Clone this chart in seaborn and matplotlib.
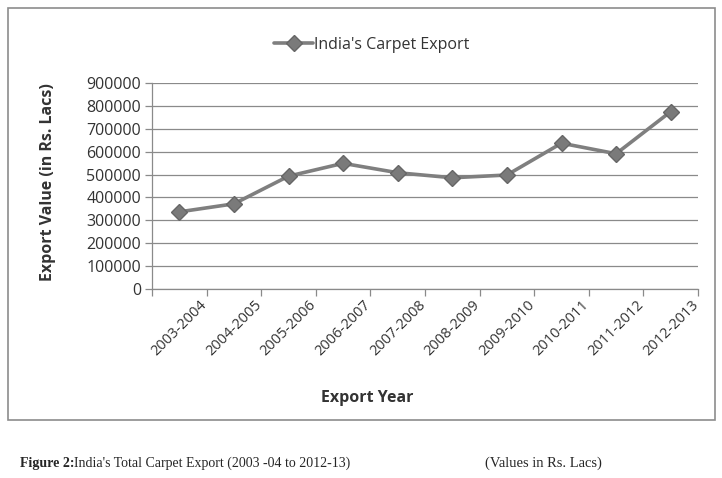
import numpy as np
import pandas as pd
import seaborn as sns
import matplotlib.pyplot as plt
from matplotlib.patches import Rectangle

# values (Rs. Lacs)
years = ['2003-2004', '2004-2005', '2005-2006', '2006-2007', '2007-2008',
         '2008-2009', '2009-2010', '2010-2011', '2011-2012', '2012-2013']
export_value = [337000, 372000, 493000, 549000, 508000,
                486000, 498000, 637000, 591000, 775000]
y_ticks = [0, 100000, 200000, 300000, 400000, 500000, 600000, 700000, 800000, 900000]

df = pd.DataFrame({'year': years, 'value': export_value})

sns.set_style('white')
plt.rcParams['font.family'] = ['Open Sans', 'DejaVu Sans']

W, H = 722, 478
fig = plt.figure(figsize=(W / 100, H / 100), dpi=100)
ax = fig.add_axes([152 / W, 1 - 289 / H, (698 - 152) / W, (289 - 83) / H])

# chart border
fig.patches.append(Rectangle((8 / W, 1 - 420 / H), 707 / W, 412 / H,
                             transform=fig.transFigure, fill=False,
                             edgecolor='#8c8c8c', linewidth=1.2))

sns.lineplot(data=df, x='year', y='value', ax=ax, color='#7f7f7f', linewidth=2.6,
             marker='D', markersize=8, markerfacecolor='#7a7a7a',
             markeredgecolor='#666666', markeredgewidth=1.0,
             label="India's Carpet Export", sort=False)

ax.set_xlim(-0.5, len(years) - 0.5)
ax.set_ylim(0, 900000)
ax.set_yticks(y_ticks)
ax.set_yticklabels([str(v) for v in y_ticks])
ax.yaxis.grid(True, color='#8a8a8a', linewidth=0.9)
ax.xaxis.grid(False)

ax.set_xticks(range(len(years)))
ax.set_xticklabels(years, rotation=45)
ax.set_xticks(np.arange(-0.5, len(years), 1.0), minor=True)
ax.tick_params(axis='x', which='major', length=0, pad=6, labelsize=10.5, labelcolor='#333333')
ax.tick_params(axis='x', which='minor', length=5, width=0.9, color='#8a8a8a', direction='out', bottom=True)
ax.tick_params(axis='y', length=5, width=0.9, color='#8a8a8a', direction='out', left=True,
               labelsize=11.5, labelcolor='#333333', pad=3)

for side in ['top', 'right']:
    ax.spines[side].set_visible(False)
for side in ['left', 'bottom']:
    ax.spines[side].set_color('#8a8a8a')
    ax.spines[side].set_linewidth(0.9)

ax.set_xlabel('')
ax.set_ylabel('Export Value (in Rs. Lacs)', fontsize=11.5, fontweight='bold', color='#333333')
ax.yaxis.set_label_coords((56 - 152) / (698 - 152), (289 - 182) / (289 - 83))
fig.text(367 / W, 1 - 398 / H, 'Export Year', fontsize=11.5, fontweight='bold',
         color='#333333', ha='center', va='center')

leg = ax.legend(loc='center', bbox_to_anchor=(372 / W, 1 - 45 / H),
                bbox_transform=fig.transFigure, frameon=False, fontsize=11.5,
                handlelength=2.4, handletextpad=0.1)
for t in leg.get_texts():
    t.set_color('#333333')

# caption under the chart box
cap_y = 1 - 463 / H
t1 = fig.text(20 / W, cap_y, 'Figure 2:', family='Liberation Serif', fontsize=10,
              fontweight='bold', va='center', ha='left')
fig.canvas.draw()
x_end = t1.get_window_extent().x1 / W
fig.text(x_end, cap_y, "India's Total Carpet Export (2003 -04 to 2012-13)",
         family='Liberation Serif', fontsize=10, va='center', ha='left')
fig.text(485 / W, cap_y, '(Values in Rs. Lacs)', family='Liberation Serif',
         fontsize=10.5, va='center', ha='left')

fig.savefig('out.png', dpi=100, facecolor='white')
